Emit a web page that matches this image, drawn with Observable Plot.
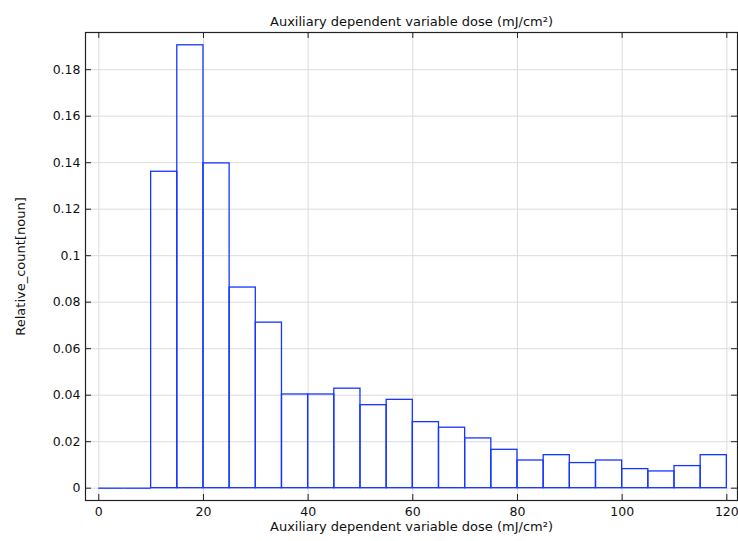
<!DOCTYPE html>
<html>
<head>
<meta charset="utf-8">
<script src="https://cdn.jsdelivr.net/npm/d3@7"></script>
<script src="https://cdn.jsdelivr.net/npm/@observablehq/plot@0.6"></script>
<style>
  html, body { margin: 0; padding: 0; background: #fff; }
  svg { display: block; }
</style>
</head>
<body>
<div id="chart"></div>
<script>
const binStarts = [0, 5, 10, 15, 20, 25, 30, 35, 40, 45, 50, 55, 60, 65, 70, 75, 80, 85, 90, 95, 100, 105, 110, 115];
const binWidth = 5;
const relCounts = [0, 0, 0.1361, 0.1905, 0.1397, 0.0863, 0.0712, 0.0403, 0.0403, 0.0428, 0.0357, 0.0380,
  0.0284, 0.0260, 0.0214, 0.0165, 0.0119, 0.0142, 0.0108, 0.0119, 0.0082, 0.0072, 0.0095, 0.0142];
const xTicks = [0, 20, 40, 60, 80, 100, 120];
const yTicks = [0, 0.02, 0.04, 0.06, 0.08, 0.1, 0.12, 0.14, 0.16, 0.18];
const yTickLabels = ["0", "0.02", "0.04", "0.06", "0.08", "0.1", "0.12", "0.14", "0.16", "0.18"];
const titleText = "Auxiliary dependent variable dose (mJ/cm²)";
const xLabel = "Auxiliary dependent variable dose (mJ/cm²)";
const yLabel = "Relative_count[noun]";

const bins = binStarts.map((s, i) => ({x1: s, x2: s + binWidth, y: relCounts[i]}));

const W = 738, H = 541;
const mL = 85, mR = 1, mT = 32, mB = 41;
const plotW = W - mL - mR, plotH = H - mT - mB;
const tick = 6;
const font = "DejaVu Sans, sans-serif";
const blue = "#1536ff";

const chart = Plot.plot({
  width: W,
  height: H,
  marginLeft: mL,
  marginRight: mR,
  marginTop: mT,
  marginBottom: mB,
  style: {fontFamily: font, fontSize: "12px", background: "#fff", color: "#222"},
  x: {domain: [-2.54, 122.04], ticks: xTicks},
  y: {domain: [-0.0053, 0.196], ticks: yTicks},
  marks: [
    Plot.gridX(xTicks, {stroke: "#dcdcdc", strokeOpacity: 1}),
    Plot.gridY(yTicks, {stroke: "#dcdcdc", strokeOpacity: 1}),
    Plot.rectY(bins.filter(d => d.y > 0), {x1: "x1", x2: "x2", y: "y", fill: "none", stroke: blue, strokeWidth: 1.3}),
    Plot.ruleY(bins.filter(d => d.y === 0), {x1: "x1", x2: "x2", y: "y", stroke: blue, strokeWidth: 1.3}),
    Plot.frame({stroke: "#222", strokeWidth: 1.2}),
    // inward ticks
    Plot.ruleX(xTicks, {x: d => d, insetTop: plotH - tick, stroke: "#222"}),
    Plot.ruleX(xTicks, {x: d => d, insetBottom: plotH - tick, stroke: "#222"}),
    Plot.ruleY(yTicks, {y: d => d, insetRight: plotW - tick, stroke: "#222"}),
    Plot.ruleY(yTicks, {y: d => d, insetLeft: plotW - tick, stroke: "#222"}),
    Plot.axisX(xTicks, {tickSize: 0, tickPadding: 7, label: null, fontSize: 12.5, fill: "#111"}),
    Plot.axisY(yTicks, {tickSize: 0, tickPadding: 5, label: null, tickFormat: (d, i) => yTickLabels[i], fontSize: 12.5, fill: "#111"}),
    Plot.text([titleText], {frameAnchor: "top", dy: -16, text: d => d, fontSize: 13, fill: "#111"}),
    Plot.text([xLabel], {frameAnchor: "bottom", dy: 30, text: d => d, fontSize: 13, fill: "#111"}),
    Plot.text([yLabel], {frameAnchor: "left", textAnchor: "middle", dx: -65, rotate: -90, text: d => d, fontSize: 13, fill: "#111"})
  ]
});
document.getElementById("chart").appendChild(chart);
</script>
</body>
</html>
